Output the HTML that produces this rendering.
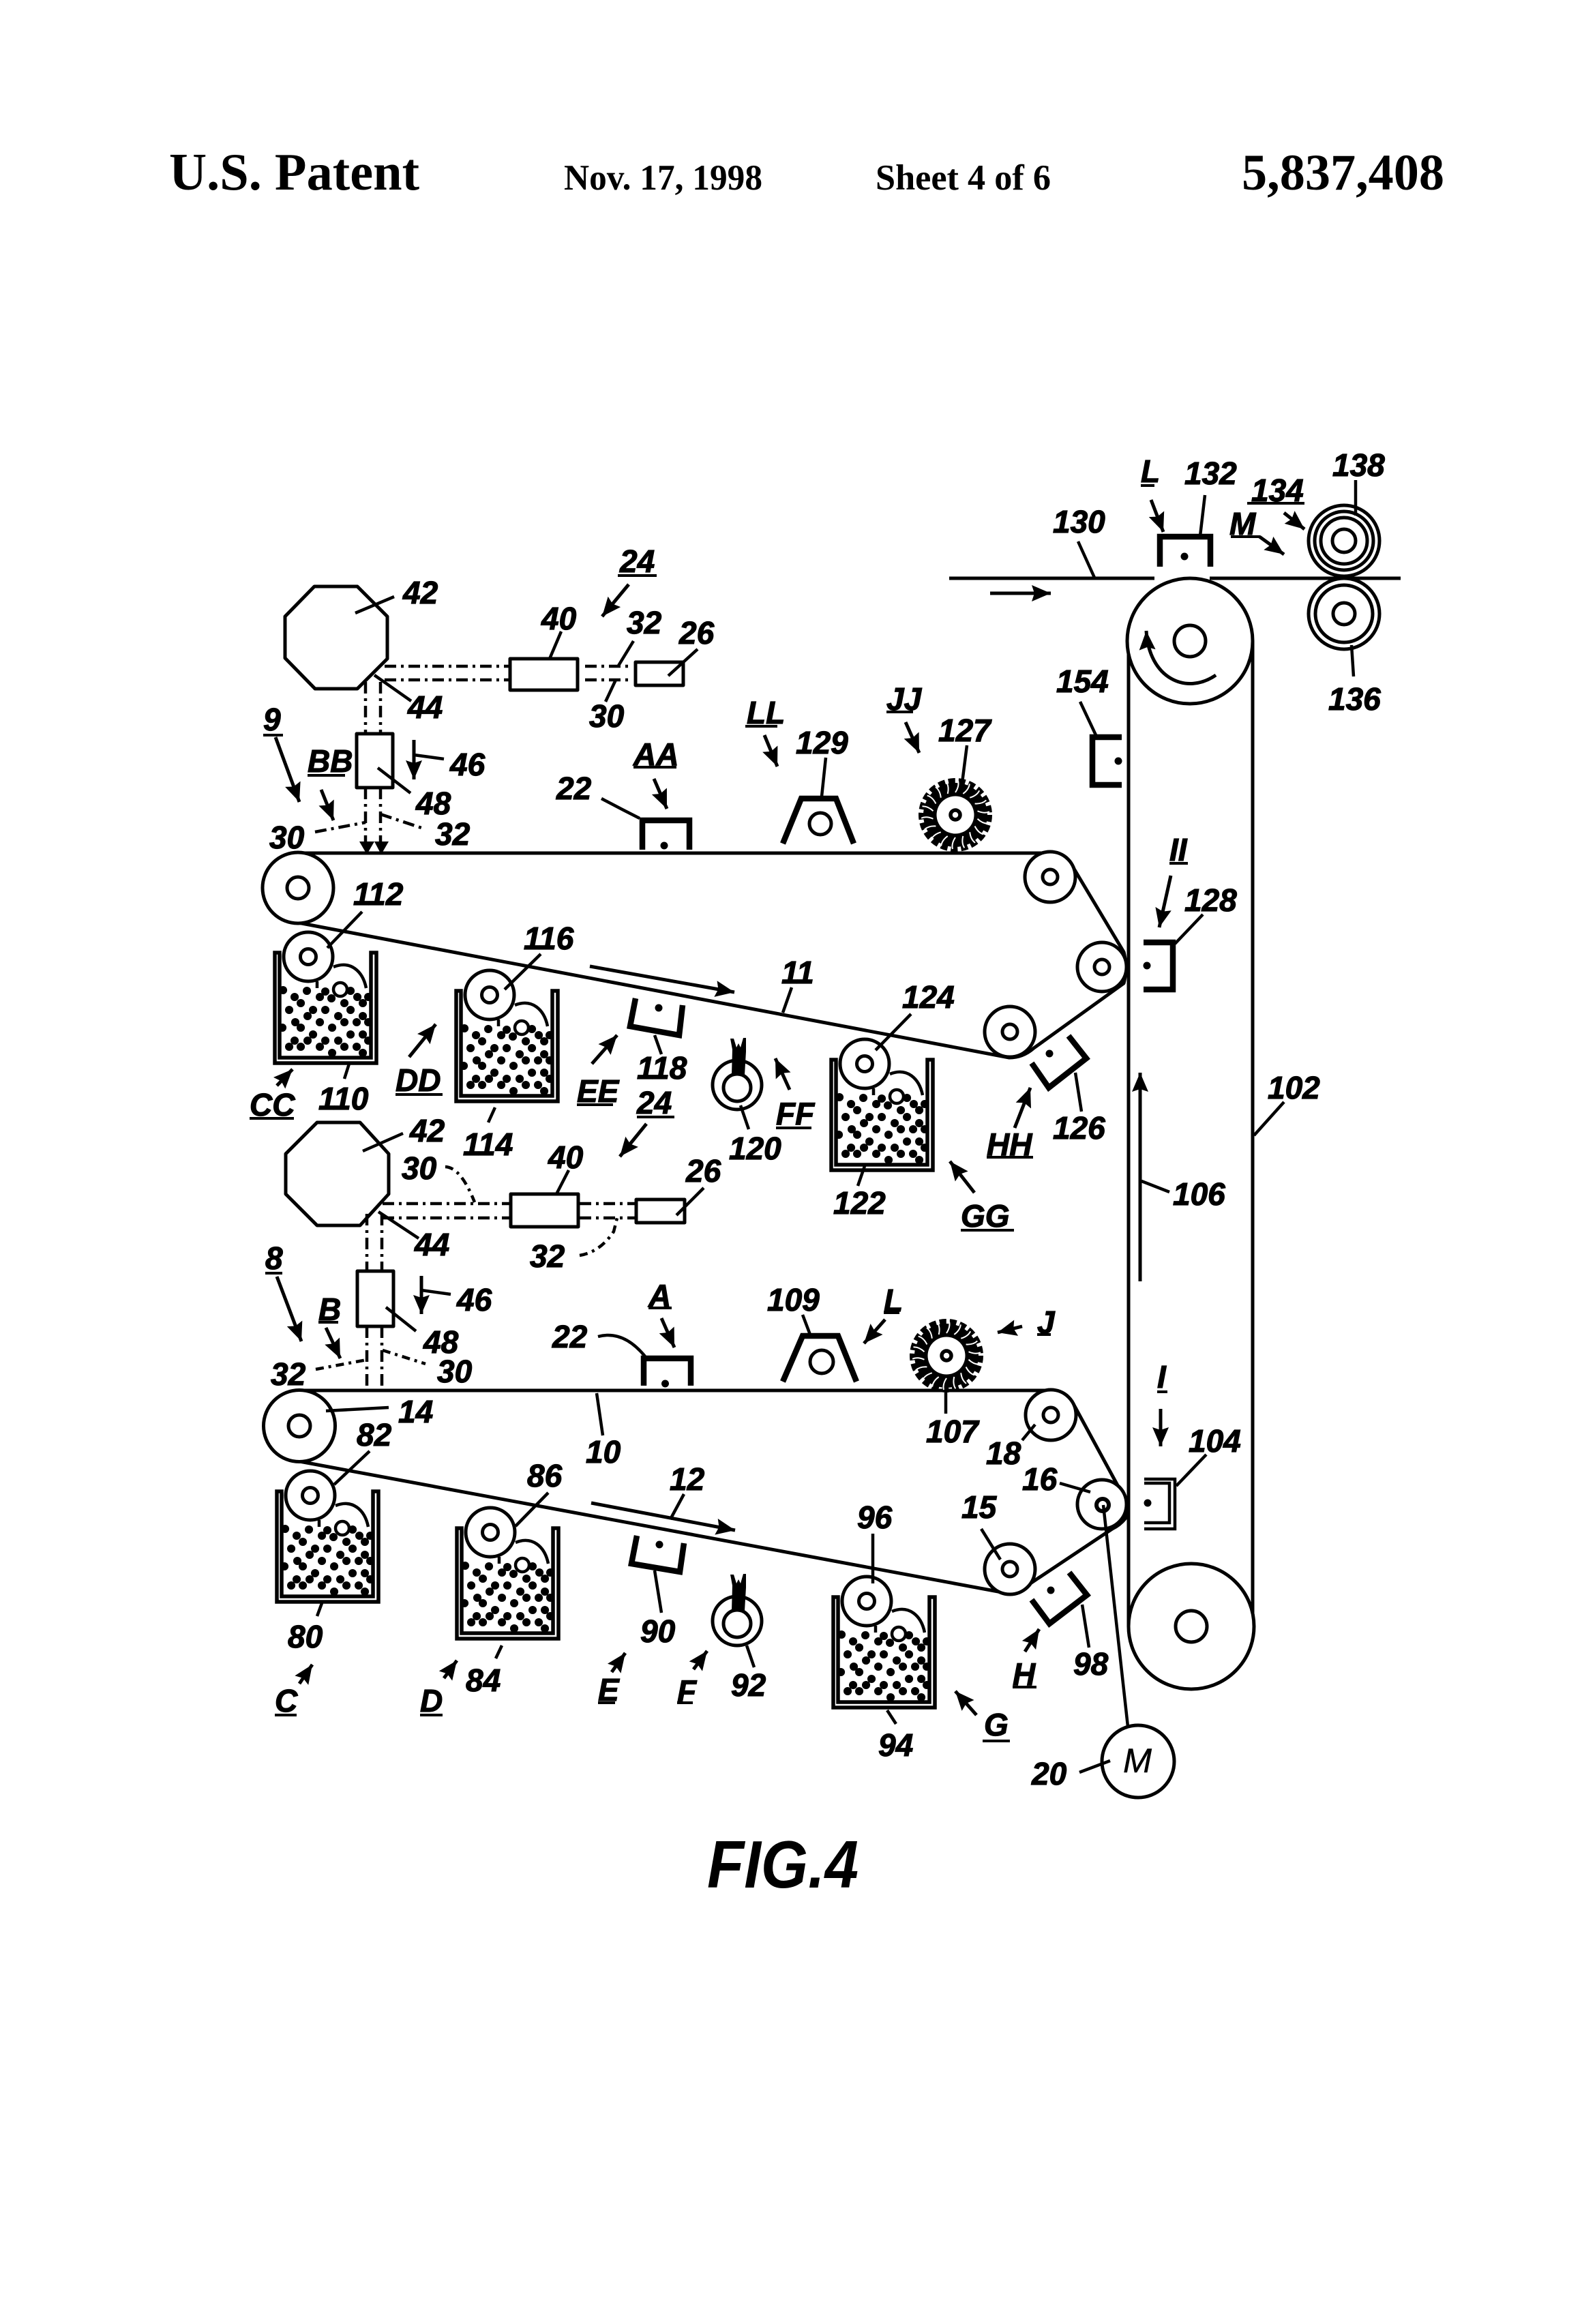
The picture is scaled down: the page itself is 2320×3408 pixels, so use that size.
<!DOCTYPE html>
<html>
<head>
<meta charset="utf-8">
<title>U.S. Patent 5,837,408 FIG.4</title>
<style>
html,body{margin:0;padding:0;background:#fff}
svg{display:block}
.s{fill:none;stroke:#000;stroke-width:5;stroke-linejoin:round}
.l{fill:none;stroke:#000;stroke-width:4.5}
.a{fill:none;stroke:#000;stroke-width:5;marker-end:url(#ah)}
.b{fill:none;stroke:#000;stroke-width:8.5;stroke-linejoin:miter}
.d{fill:none;stroke:#000;stroke-width:4.5;stroke-dasharray:17 7 4 7}
.r{fill:#fff;stroke:#000;stroke-width:5}
.u{fill:none;stroke:#000;stroke-width:4}
.t text{font-family:"Liberation Sans",sans-serif;font-weight:bold;font-style:italic;font-size:46px;fill:#000;stroke:#000;stroke-width:1.2}
.h text{font-family:"Liberation Serif",serif;font-weight:bold;fill:#000}
</style>
</head>
<body>
<svg xmlns="http://www.w3.org/2000/svg" width="2320" height="3408" viewBox="0 0 2320 3408">
<defs>
<marker id="ah" markerUnits="userSpaceOnUse" markerWidth="30" markerHeight="26" refX="28" refY="13" orient="auto"><path d="M0,1L28,13L0,25L4,13Z" fill="#000"/></marker>
<g id="hopper">
<path class="l" d="M1,3V165H150V3H142V157H8V3Z" style="stroke-width:5.5"/>
<path d="M48,59h.1M13,58h.1M75,60h.1M67,68h.1M84,70h.1M112,59h.1M122,68h.1M130,77h.1M138,68h.1M30,68h.1M39,77h.1M103,77h.1M112,87h.1M22,87h.1M57,87h.1M49,96h.1M75,87h.1M94,96h.1M103,105h.1M130,96h.1M121,105h.1M138,105h.1M31,105h.1M39,113h.1M67,105h.1M85,113h.1M12,113h.1M112,123h.1M130,123h.1M138,132h.1M57,123h.1M49,132h.1M30,132h.1M39,141h.1M22,141h.1M75,132h.1M67,141h.1M94,132h.1M103,141h.1M121,141h.1M130,150h.1M85,150h.1" stroke="#000" stroke-width="12" stroke-linecap="round" fill="none"/>
<path class="l" d="M87,24C112,14 130,30 135,55"/>
<path class="l" d="M63,45V55"/>
<circle cx="97" cy="57" r="10" class="r" style="stroke-width:4.5"/>
<circle cx="50" cy="9" r="36" class="r"/>
<circle cx="50" cy="9" r="11.5" class="r"/>
</g>
<g id="tooth"><path d="M0,-33Q6,-42 4,-50" fill="none" stroke="#fff" stroke-width="2"/></g>
<g id="brush">
<circle r="50" fill="none" stroke="#000" stroke-width="8" stroke-dasharray="10 5"/>
<circle r="47" fill="#000"/>
<use href="#tooth"/><use href="#tooth" transform="rotate(20)"/><use href="#tooth" transform="rotate(40)"/><use href="#tooth" transform="rotate(60)"/><use href="#tooth" transform="rotate(80)"/><use href="#tooth" transform="rotate(100)"/><use href="#tooth" transform="rotate(120)"/><use href="#tooth" transform="rotate(140)"/><use href="#tooth" transform="rotate(160)"/><use href="#tooth" transform="rotate(180)"/><use href="#tooth" transform="rotate(200)"/><use href="#tooth" transform="rotate(220)"/><use href="#tooth" transform="rotate(240)"/><use href="#tooth" transform="rotate(260)"/><use href="#tooth" transform="rotate(280)"/><use href="#tooth" transform="rotate(300)"/><use href="#tooth" transform="rotate(320)"/><use href="#tooth" transform="rotate(340)"/>
<circle r="27.5" fill="#fff"/>
<circle r="7" fill="#fff" stroke="#000" stroke-width="5.5"/>
</g>
<g id="small">
<circle cx="1081" cy="2377" r="36" class="r"/>
<path d="M1073,2362L1074,2325L1071,2309L1076,2309L1080,2322L1083,2316L1086,2322L1090,2308L1094,2308L1094,2328L1092,2362Z" fill="#000"/>
<circle cx="1081" cy="2381" r="20" class="r"/>
</g>
</defs>
<rect width="2320" height="3408" fill="#fff"/>

<!-- header -->
<g class="h">
<text x="248" y="278" font-size="77" textLength="367" lengthAdjust="spacingAndGlyphs">U.S. Patent</text>
<text x="827" y="278" font-size="53" textLength="291" lengthAdjust="spacingAndGlyphs">Nov. 17, 1998</text>
<text x="1284" y="278" font-size="53" textLength="257" lengthAdjust="spacingAndGlyphs">Sheet 4 of 6</text>
<text x="1821" y="278" font-size="75" textLength="297" lengthAdjust="spacingAndGlyphs">5,837,408</text>
</g>

<!-- belts -->
<path class="s" d="M437,1251L1538,1251Q1565,1251 1575,1274L1648,1396Q1654,1420 1648,1442L1516,1537Q1500,1551 1480,1551L437,1353"/>
<path class="s" d="M439,2039L1544,2039Q1565,2040 1577,2064L1653,2204L1653,2223Q1645,2235 1631,2242L1511,2322Q1497,2337 1480,2337L439,2143"/>
<path class="s" d="M1655,940V2385M1837,940V2385"/>
<path class="s" d="M1392,848H1693M1774,848H2054"/>

<!-- rollers -->
<circle cx="437" cy="1302" r="52" class="r"/><circle cx="437" cy="1302" r="16" class="r"/>
<circle cx="1540" cy="1286" r="37" class="r"/><circle cx="1540" cy="1286" r="11" class="r"/>
<circle cx="1616" cy="1418" r="36" class="r"/><circle cx="1616" cy="1418" r="11" class="r"/>
<circle cx="1481" cy="1513" r="37" class="r"/><circle cx="1481" cy="1513" r="11" class="r"/>
<circle cx="439" cy="2091" r="52.5" class="r"/><circle cx="439" cy="2091" r="16" class="r"/>
<circle cx="1541" cy="2075" r="37" class="r"/><circle cx="1541" cy="2075" r="11" class="r"/>
<circle cx="1616" cy="2206" r="36" class="r"/><circle cx="1617" cy="2207" r="9" class="r" style="stroke-width:6"/>
<circle cx="1481" cy="2301" r="37" class="r"/><circle cx="1481" cy="2301" r="11" class="r"/>
<circle cx="1745" cy="940" r="92" class="r"/><circle cx="1745" cy="940" r="23" class="r"/>
<circle cx="1747" cy="2385" r="92" class="r"/><circle cx="1747" cy="2385" r="23" class="r"/>
<circle cx="1971" cy="793" r="52" class="r"/><circle cx="1971" cy="793" r="43" class="r"/><circle cx="1971" cy="793" r="34" class="r"/><circle cx="1971" cy="793" r="17" class="r"/>
<circle cx="1971" cy="900" r="52" class="r"/><circle cx="1971" cy="900" r="42" class="r"/><circle cx="1971" cy="900" r="16" class="r"/>
<path class="a" d="M1783,990C1740,1020 1685,995 1681,925"/>

<!-- hoppers -->
<use href="#hopper" transform="translate(402,1394)"/>
<use href="#hopper" transform="translate(668,1450)"/>
<use href="#hopper" transform="translate(1218,1551)"/>
<use href="#hopper" transform="translate(405,2184)"/>
<use href="#hopper" transform="translate(669,2238)"/>
<use href="#hopper" transform="translate(1221,2339)"/>

<!-- brushes -->
<use href="#brush" transform="translate(1401,1195)"/>
<use href="#brush" transform="translate(1388,1988)"/>
<use href="#small"/>
<use href="#small" transform="translate(0,-786)"/>

<!-- scanners upper -->
<path class="s" d="M461,860H524L568,904V966L524,1010H462L418,965V904Z"/>
<path class="d" d="M564,977H746M858,977H927M564,997H746M858,997H927"/>
<path class="d" d="M536,1000V1075M558,1000V1075M536,1155V1236M558,1155V1236"/>
<rect x="748" y="966" width="99" height="46" class="s" style="fill:#fff"/>
<rect x="932" y="971" width="70" height="34" class="s" style="fill:#fff"/>
<rect x="523" y="1076" width="53" height="79" class="s" style="fill:#fff"/>
<path d="M527,1234H549L538,1253ZM549,1234H570L559,1253Z" fill="#000"/>
<path class="d" d="M462,1220L536,1206M558,1194L618,1214"/>

<!-- scanners lower -->
<path class="s" d="M465,1646H528L570,1692V1751L528,1797H465L419,1751V1692Z"/>
<path class="d" d="M561,1765H748M850,1765H933M561,1786H748M850,1786H933"/>
<path class="d" d="M538,1780V1863M560,1780V1863M538,1945V2038M560,1945V2038"/>
<rect x="749" y="1751" width="99" height="48" class="s" style="fill:#fff"/>
<rect x="933" y="1759" width="71" height="34" class="s" style="fill:#fff"/>
<rect x="524" y="1864" width="53" height="81" class="s" style="fill:#fff"/>
<path class="d" d="M653,1711Q676,1712 696,1763M850,1841Q880,1836 900,1806L905,1786M463,2008L538,1994M561,1980L624,2000" style="stroke-dasharray:12 7 4 7"/>

<!-- brackets -->
<path class="b" d="M1701,831V787H1775V831"/><circle cx="1737" cy="816" r="5.5"/>
<path class="b" d="M1645,1081H1602V1151H1645"/><circle cx="1640" cy="1116" r="5.5"/>
<path class="b" d="M1677,1382H1720V1451H1677"/><circle cx="1682" cy="1416" r="5.5"/>
<path class="b" d="M1513,1559L1538,1595L1593,1552L1567,1519"/><circle cx="1539" cy="1545" r="5.5"/>
<path class="b" d="M932,1464L924,1505L996,1518L1001,1474"/><circle cx="966" cy="1478" r="5.5"/>
<path class="b" d="M942,1246V1203H1011V1246"/><circle cx="974" cy="1240" r="5.5"/>
<path class="b" d="M944,2032V1992H1013V2032"/><circle cx="975.5" cy="2029" r="5.5"/>
<path class="l" d="M1678,2169H1723V2242H1678M1678,2175H1715V2233H1678"/><circle cx="1683" cy="2204" r="5.5"/>
<path class="b" d="M934,2252L926,2293L997,2305L1003,2263"/><circle cx="967" cy="2265" r="5.5"/>
<path class="b" d="M1513,2346L1539,2381L1594,2339L1568,2306"/><circle cx="1541" cy="2332" r="5.5"/>

<!-- trapezoids -->
<path class="b" d="M1148,1237L1175,1171H1226L1252,1237"/><circle cx="1203" cy="1208" r="16" class="r"/>
<path class="b" d="M1148,2026L1177,1959H1229L1256,2026"/><circle cx="1205" cy="1997" r="17" class="r"/>

<!-- motor -->
<circle cx="1669" cy="2583" r="53" class="r"/>
<path class="l" d="M1618,2207L1654,2532M1583,2599L1628,2582"/>

<!-- leaders -->
<path class="l" d="M521,899L578,875M823,926L806,966M929,940L907,976M1023,952L980,991M903,997L888,1029M549,990L603,1028M607,1107L651,1113M554,1126L602,1163M882,1171Q910,1186 938,1200M531,1337L480,1390M793,1399L740,1451M1767,726L1760,786M1581,794L1605,847M1988,704L1988,756M1982,946L1985,992M1584,1029L1608,1080M1764,1341L1723,1384M1418,1093L1411,1148M1211,1111L1205,1168M1161,1448L1148,1485M1336,1487L1284,1540M1883,1616L1839,1665M1715,1748L1674,1732M1577,1573L1586,1630M1268,1710L1258,1739M512,1560L505,1582M726,1624L716,1646M960,1518L970,1546M1086,1621L1098,1656"/>
<path class="l" d="M532,1688L591,1662M834,1716L816,1751M1032,1742L992,1782M555,1777L614,1816M618,1892L661,1898M566,1917L610,1952M877,1960Q914,1950 946,1989M478,2069L570,2064M875,2043L884,2105M542,2128L490,2177M1177,1928L1188,1957M1387,2042V2073M1769,2133L1725,2179M1499,2112L1518,2089M1554,2175L1599,2188M1439,2242L1467,2287M1280,2249V2322M1587,2353L1597,2416M1301,2508L1314,2528M472,2351L465,2370M736,2413L727,2432M804,2189L756,2238M960,2303L970,2365M1095,2413L1106,2445M1003,2191L983,2228"/>

<!-- arrows -->
<path class="a" d="M922,857L883,904"/><path class="a" d="M607,1085V1143"/><path class="a" d="M404,1081L439,1176"/>
<path class="a" d="M471,1158L489,1203"/><path class="a" d="M959,1142L978,1186"/><path class="a" d="M1121,1078L1140,1124"/>
<path class="a" d="M1328,1059L1348,1104"/><path class="a" d="M1452,870H1541"/><path class="a" d="M1688,733L1706,780"/>
<path class="a" d="M1883,752L1913,776"/><path class="a" d="M1847,787L1883,813"/><path class="a" d="M1717,1284L1700,1360"/>
<path class="a" d="M865,1417L1077,1455"/><path class="a" d="M406,1592L429,1568"/><path class="a" d="M600,1550L639,1502"/>
<path class="a" d="M868,1560L905,1518"/><path class="a" d="M1158,1598L1137,1552"/><path class="a" d="M1488,1654L1511,1595"/>
<path class="a" d="M1429,1749L1393,1703"/><path class="a" d="M1672,1879V1573"/><path class="a" d="M948,1648L909,1696"/>
<path class="a" d="M618,1871V1927"/><path class="a" d="M406,1872L442,1967"/><path class="a" d="M478,1947L499,1992"/>
<path class="a" d="M970,1933L989,1976"/><path class="a" d="M1298,1935L1267,1970"/><path class="a" d="M1499,1945L1463,1954"/>
<path class="a" d="M1702,2066V2121"/><path class="a" d="M867,2204L1078,2244"/><path class="a" d="M439,2469L458,2441"/>
<path class="a" d="M651,2461L670,2435"/><path class="a" d="M897,2452L917,2424"/><path class="a" d="M1017,2448L1037,2421"/>
<path class="a" d="M1503,2422L1524,2389"/><path class="a" d="M1432,2515L1401,2480"/>

<!-- underlines -->
<path class="u" d="M906,844H963M386,1078H415M451,1137H506M929,1125H992M1093,1065H1140M1300,1044H1339M1673,712H1693M1829,738H1913M1805,787H1848M1715,1266H1742M366,1640H431M580,1605H649M846,1620H899M1138,1654H1190M1447,1697H1515M1409,1804H1487M934,1638H989M389,1867H414M467,1939H496M951,1918H985M1296,1925H1319M1521,1957H1541M1697,2041H1712M403,2515H435M616,2515H649M877,2497H902M993,2497H1016M1485,2474H1520M1441,2553H1481"/>

<!-- labels -->
<g class="t">
<text x="591" y="885">42</text><text x="909" y="839">24</text><text x="794" y="923">40</text><text x="919" y="929">32</text><text x="996" y="944">26</text><text x="864" y="1066">30</text><text x="598" y="1053">44</text>
<text x="386" y="1071">9</text><text x="451" y="1132">BB</text><text x="660" y="1137">46</text><text x="610" y="1194">48</text><text x="395" y="1244">30</text><text x="638" y="1239">32</text>
<text x="816" y="1172">22</text><text x="929" y="1122">AA</text><text x="1095" y="1061">LL</text><text x="1167" y="1105">129</text><text x="1300" y="1041">JJ</text><text x="1376" y="1087">127</text>
<text x="1544" y="781">130</text><text x="1673" y="707">L</text><text x="1737" y="710">132</text><text x="1835" y="735">134</text><text x="1803" y="784">M</text><text x="1954" y="698">138</text><text x="1948" y="1041">136</text>
<text x="1549" y="1015">154</text><text x="1715" y="1262">II</text><text x="1737" y="1336">128</text><text x="1146" y="1442">11</text><text x="1323" y="1478">124</text><text x="518" y="1327">112</text><text x="768" y="1392">116</text>
<text x="366" y="1636">CC</text><text x="467" y="1627">110</text><text x="580" y="1600">DD</text><text x="679" y="1694">114</text><text x="846" y="1616">EE</text><text x="934" y="1582">118</text><text x="1069" y="1700">120</text><text x="1138" y="1649">FF</text>
<text x="1222" y="1780">122</text><text x="1409" y="1799">GG</text><text x="1447" y="1694">HH</text><text x="1544" y="1670">126</text><text x="1859" y="1611">102</text><text x="1720" y="1767">106</text>
<text x="601" y="1674">42</text><text x="934" y="1633">24</text><text x="589" y="1729">30</text><text x="804" y="1713">40</text><text x="1006" y="1733">26</text><text x="777" y="1858">32</text><text x="608" y="1841">44</text>
<text x="389" y="1861">8</text><text x="467" y="1936">B</text><text x="670" y="1922">46</text><text x="621" y="1984">48</text><text x="397" y="2031">32</text><text x="641" y="2027">30</text>
<text x="810" y="1976">22</text><text x="951" y="1916">A</text><text x="1125" y="1922">109</text><text x="1296" y="1923">L</text><text x="1521" y="1955">J</text><text x="1358" y="2115">107</text><text x="1697" y="2035">I</text><text x="1743" y="2129">104</text>
<text x="584" y="2086">14</text><text x="859" y="2145">10</text><text x="523" y="2120">82</text><text x="773" y="2180">86</text><text x="982" y="2185">12</text><text x="1446" y="2147">18</text><text x="1499" y="2185">16</text><text x="1410" y="2226">15</text><text x="1257" y="2241">96</text>
<text x="422" y="2416">80</text><text x="403" y="2510">C</text><text x="616" y="2510">D</text><text x="683" y="2480">84</text><text x="939" y="2408">90</text><text x="877" y="2494">E</text><text x="993" y="2496">F</text><text x="1072" y="2487">92</text>
<text x="1288" y="2575">94</text><text x="1443" y="2545">G</text><text x="1485" y="2471">H</text><text x="1574" y="2456">98</text><text x="1513" y="2617">20</text>
<text x="1647" y="2599" textLength="42" lengthAdjust="spacingAndGlyphs" style="font-weight:normal;font-size:50px;stroke-width:.5">M</text>
<text x="1037" y="2768" textLength="222" lengthAdjust="spacingAndGlyphs" style="font-size:98px;stroke-width:0">FIG.4</text>
</g>
</svg>
</body>
</html>
